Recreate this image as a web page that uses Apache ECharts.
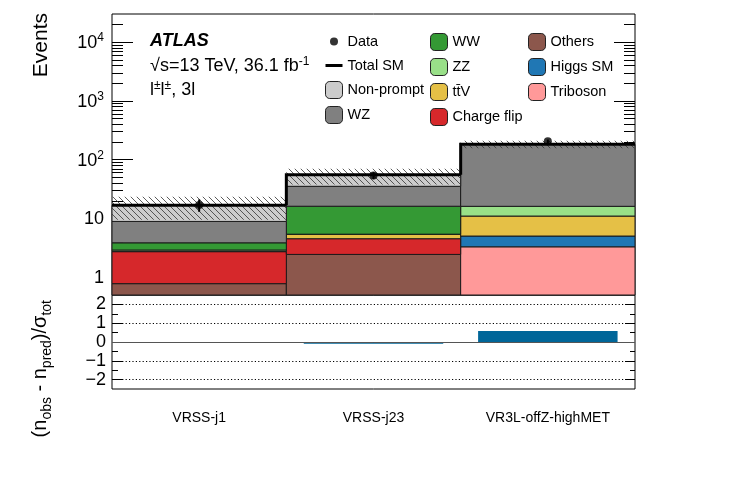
<!DOCTYPE html>
<html><head><meta charset="utf-8">
<script src="https://cdn.jsdelivr.net/npm/echarts@6/dist/echarts.min.js"></script>
<style>html,body{margin:0;padding:0;background:#fff}#c{width:747px;height:477px}</style>
</head><body><div id="c"></div>
<script>
// ---------- data ----------
const bins = ['VRSS-j1', 'VRSS-j23', 'VR3L-offZ-highMET'];
// stacked backgrounds (bottom to top)
const others     = [0.78, 2.45, 0];
const triboson   = [0, 0, 3.3];
const higgs      = [0, 0, 1.73];
const chargeFlip = [1.95, 2.08, 0];
const ttV        = [0.03, 0.83, 5.97];
const zz         = [0.15, 0.05, 5.1];
const ww         = [0.95, 10.74, 0];
const wz         = [5.05, 19.1, 166];
const nonPrompt  = [7.8, 20.3, 0];
// observed data
const dataObs    = [17, 54, 206];
const dataLow    = [13.0, 46.7, 192];
const dataHigh   = [21.1, 61.3, 220];
// total SM uncertainty band
const bandLow    = [9.5, 38, 157];
const bandHigh   = [23.5, 70, 210];
// significance (n_obs - n_pred)/sigma_tot
const pull       = [0, -0.09, 0.58];
// axis ticks
const yMajorTicks = [1, 10, 100, 1000, 10000];
const yMinorTicks = [0.6, 0.7, 0.8, 0.9, 2, 3, 4, 5, 6, 7, 8, 9, 20, 30, 40, 50, 60, 70, 80, 90,
  200, 300, 400, 500, 600, 700, 800, 900, 2000, 3000, 4000, 5000, 6000, 7000, 8000, 9000, 20000];
const rMajorTicks = [-2, -1, 0, 1, 2];
const rMinorTicks = [-1.5, -0.5, 0.5, 1.5];
const rDotLines = [-2, -1, 1, 2];

const processNames  = ['Others', 'Triboson', 'Higgs SM', 'Charge flip', 't\u0074\u0304V', 'ZZ', 'WW', 'WZ', 'Non-prompt'];
const processValues = [others, triboson, higgs, chargeFlip, ttV, zz, ww, wz, nonPrompt];
const processColors = ['#8c574c', '#ff9999', '#2077b4', '#d6282b', '#e5c046', '#99e088', '#349934', '#808080', '#cccccc'];

const Y_MIN = 0.5, Y_MAX = 30000;
const FONT = 'Liberation Sans, Arial, sans-serif';

// cumulative stack
const cum = [bins.map(() => 0)];
processValues.forEach((vals, k) => cum.push(vals.map((v, i) => cum[k][i] + v)));
const total = cum[cum.length - 1];

// hatch pattern
const pc = document.createElement('canvas');
pc.width = 6; pc.height = 6;
const pctx = pc.getContext('2d');
pctx.strokeStyle = '#333'; pctx.lineWidth = 0.8;
pctx.beginPath();
pctx.moveTo(0, 0); pctx.lineTo(6, 6);
pctx.moveTo(-1, 5); pctx.lineTo(1, 7);
pctx.moveTo(5, -1); pctx.lineTo(7, 1);
pctx.stroke();
const hatch = { image: pc, repeat: 'repeat' };

function binGeom(api, i, v) {
  const c0 = api.coord([0, v]), c1 = api.coord([1, v]);
  const w = c1[0] - c0[0];
  const c = api.coord([i, v]);
  return { left: c[0] - w / 2, right: c[0] + w / 2, y: c[1], x: c[0] };
}

const series = [];
processNames.forEach((name, k) => {
  series.push({
    type: 'custom', name: name, xAxisIndex: 0, yAxisIndex: 0,
    itemStyle: { color: processColors[k] },
    data: bins.map((b, i) => [i, Math.max(cum[k + 1][i], Y_MIN)]),
    encode: { x: 0, y: 1 },
    renderItem: function (params, api) {
      const i = params.dataIndex;
      const lo = cum[k][i], hi = cum[k + 1][i];
      if (hi - lo <= 0) return null;
      const a = binGeom(api, i, Math.max(lo, Y_MIN));
      const b = binGeom(api, i, hi);
      return { type: 'rect', shape: { x: a.left, y: b.y, width: a.right - a.left, height: a.y - b.y },
        style: { fill: processColors[k], stroke: '#1a1a1a', lineWidth: 1 } };
    }
  });
});
// uncertainty band
series.push({
  type: 'custom', name: 'Uncertainty', xAxisIndex: 0, yAxisIndex: 0,
  data: bins.map((b, i) => [i, bandHigh[i]]), encode: { x: 0, y: 1 },
  renderItem: function (params, api) {
    const i = params.dataIndex;
    const a = binGeom(api, i, bandLow[i]);
    const b = binGeom(api, i, bandHigh[i]);
    return { type: 'rect', shape: { x: a.left, y: b.y, width: a.right - a.left, height: a.y - b.y },
      style: { fill: hatch, stroke: null } };
  }
});
// total SM step line
series.push({
  type: 'custom', name: 'Total SM', xAxisIndex: 0, yAxisIndex: 0,
  itemStyle: { color: '#000' },
  data: bins.map((b, i) => [i, total[i]]), encode: { x: 0, y: 1 },
  renderItem: function (params, api) {
    const i = params.dataIndex;
    const g = binGeom(api, i, total[i]);
    let pts = [[g.left, g.y], [g.right, g.y]];
    if (i > 0) {
      const p = binGeom(api, i - 1, total[i - 1]);
      pts = [[g.left, p.y], [g.left, g.y], [g.right, g.y]];
    }
    return { type: 'polyline', shape: { points: pts }, style: { stroke: '#000', lineWidth: 3, fill: null, lineJoin: 'miter' } };
  }
});
// data error bars
series.push({
  type: 'custom', name: 'DataErr', xAxisIndex: 0, yAxisIndex: 0,
  data: bins.map((b, i) => [i, dataHigh[i]]), encode: { x: 0, y: 1 },
  renderItem: function (params, api) {
    const i = params.dataIndex;
    const a = binGeom(api, i, dataLow[i]);
    const b = binGeom(api, i, dataHigh[i]);
    return { type: 'line', shape: { x1: a.x, y1: a.y, x2: b.x, y2: b.y }, style: { stroke: '#000', lineWidth: 2 } };
  }
});
// data points
series.push({
  type: 'scatter', name: 'Data', xAxisIndex: 0, yAxisIndex: 0,
  symbol: 'circle', symbolSize: 8, itemStyle: { color: '#000' }, z: 5,
  data: dataObs.map((v, i) => [i, v])
});
// ratio
series.push({
  type: 'bar', name: 'Pull', xAxisIndex: 2, yAxisIndex: 4,
  barWidth: '80%', data: pull,
  itemStyle: { color: '#006699', borderWidth: 0 },
  markLine: {
    silent: true, symbol: 'none', label: { show: false }, animation: false,
    data: rDotLines.map(v => ({ yAxis: v, lineStyle: { type: [1.2, 2.2], color: '#000', width: 1 } }))
      .concat([{ yAxis: 0, lineStyle: { type: 'solid', color: '#555', width: 1 } }])
  }
});

const supRich = {
  m: { fontSize: 18, lineHeight: 20, verticalAlign: 'bottom', fontFamily: FONT, color: '#000' },
  p: { fontSize: 12, lineHeight: 14, verticalAlign: 'top', fontFamily: FONT, color: '#000' }
};

function logAxis(pos, ticks, len, showLabel) {
  return {
    type: 'log', gridIndex: 0, position: pos, min: Y_MIN, max: Y_MAX, logBase: 10,
    axisLine: { show: false, onZero: false }, splitLine: { show: false },
    axisTick: { show: true, inside: true, length: len, customValues: ticks, lineStyle: { color: '#000', width: 1 } },
    axisLabel: showLabel ? {
      show: true, customValues: yMajorTicks, margin: 8, rich: supRich,
      formatter: v => { const e = Math.round(Math.log10(v)); return e === 0 ? '{m|1}' : e === 1 ? '{m|10}' : '{m|10}{p|' + e + '}'; }
    } : { show: false }
  };
}
function ratioAxis(pos, ticks, len, showLabel) {
  return {
    type: 'value', gridIndex: 1, position: pos, min: -2.5, max: 2.5,
    axisLine: { show: false, onZero: false }, splitLine: { show: false },
    axisTick: { show: true, inside: true, length: len, customValues: ticks, lineStyle: { color: '#000', width: 1 } },
    axisLabel: showLabel ? {
      show: true, customValues: rMajorTicks, margin: 6, fontSize: 18, fontFamily: FONT, color: '#000',
      formatter: v => (v < 0 ? '\u2212' + (-v) : String(v))
    } : { show: false }
  };
}

const legendBase = {
  orient: 'vertical', top: 33, padding: 0, itemWidth: 17, itemHeight: 17, itemGap: 7,
  selectedMode: false, textStyle: { fontSize: 14.5, fontFamily: FONT, color: '#000' },
  itemStyle: { borderColor: '#222', borderWidth: 1 }
};

const option = {
  animation: false,
  backgroundColor: '#fff',
  grid: [
    { left: 112, top: 14, width: 523, height: 281, show: true, borderColor: '#000', borderWidth: 1, backgroundColor: 'transparent' },
    { left: 112, top: 295, width: 523, height: 94, show: true, borderColor: '#000', borderWidth: 1, backgroundColor: 'transparent' }
  ],
  xAxis: [
    { type: 'category', gridIndex: 0, data: bins, position: 'bottom', boundaryGap: true,
      axisLine: { show: false, onZero: false }, axisLabel: { show: false },
      axisTick: { inside: true, length: 5, lineStyle: { color: '#000' } } },
    { type: 'category', gridIndex: 0, data: bins, position: 'top', boundaryGap: true,
      axisLine: { show: false, onZero: false }, axisLabel: { show: false },
      axisTick: { inside: true, length: 5, lineStyle: { color: '#000' } } },
    { type: 'category', gridIndex: 1, data: bins, position: 'bottom', boundaryGap: true,
      axisLine: { show: false, onZero: false },
      axisLabel: { show: true, fontSize: 14, fontFamily: FONT, color: '#000', margin: 22 },
      axisTick: { inside: true, length: 6, lineStyle: { color: '#000' } } }
  ],
  yAxis: [
    logAxis('left', yMajorTicks, 21, true),
    logAxis('left', yMinorTicks, 11, false),
    logAxis('right', yMajorTicks, 21, false),
    logAxis('right', yMinorTicks, 11, false),
    ratioAxis('left', rMajorTicks, 11, true),
    ratioAxis('left', rMinorTicks, 6, false),
    ratioAxis('right', rMajorTicks, 10, false),
    ratioAxis('right', rMinorTicks, 5, false)
  ],
  legend: [
    Object.assign({}, legendBase, { left: 325, data: [
      { name: 'Data', icon: 'path://M0,0M17,17M12.5,8.5A4,4,0,1,1,4.5,8.5A4,4,0,1,1,12.5,8.5Z', itemStyle: { color: '#000', borderWidth: 0 } },
      { name: 'Total SM', icon: 'path://M0,0M17,17M0,7H17V10H0Z', itemStyle: { color: '#000', borderWidth: 0 } },
      'Non-prompt', 'WZ'] }),
    Object.assign({}, legendBase, { left: 430, data: ['WW', 'ZZ', 't\u0074\u0304V', 'Charge flip'] }),
    Object.assign({}, legendBase, { left: 528, data: ['Others', 'Higgs SM', 'Triboson'] })
  ],
  graphic: [
    { type: 'text', x: 41, y: 13, rotation: Math.PI / 2,
      style: { text: 'Events', fontSize: 21, fontFamily: FONT, fill: '#000', align: 'right', verticalAlign: 'middle' } },
    { type: 'text', x: 30, y: 300, rotation: Math.PI / 2,
      style: { text: '{n|(n}{s|obs}{n| - n}{s|pred}{n|)/\u03c3}{s|tot}', align: 'right', verticalAlign: 'top', fill: '#000',
        rich: {
          n: { fontSize: 20, lineHeight: 24, verticalAlign: 'top', fontFamily: FONT, fill: '#000' },
          s: { fontSize: 14, lineHeight: 24, verticalAlign: 'bottom', fontFamily: FONT, fill: '#000' }
        } } },
    { type: 'text', x: 150, y: 41.5,
      style: { text: 'ATLAS', fontSize: 18, fontWeight: 'bold', fontStyle: 'italic', fontFamily: FONT, fill: '#000', verticalAlign: 'middle' } },
    { type: 'text', x: 150, y: 65.5,
      style: { text: '{m|\u221as=13 TeV, 36.1 fb}{p|-1}', verticalAlign: 'middle', rich: {
        m: { fontSize: 18, lineHeight: 20, verticalAlign: 'bottom', fontFamily: FONT, fill: '#000' },
        p: { fontSize: 12, lineHeight: 14, verticalAlign: 'top', fontFamily: FONT, fill: '#000' } } } },
    { type: 'text', x: 150, y: 89.5,
      style: { text: '{m|l}{p|\u00b1}{m|l}{p|\u00b1}{m|, 3l}', verticalAlign: 'middle', rich: {
        m: { fontSize: 18, lineHeight: 20, verticalAlign: 'bottom', fontFamily: FONT, fill: '#000' },
        p: { fontSize: 12, lineHeight: 14, verticalAlign: 'top', fontFamily: FONT, fill: '#000' } } } }
  ],
  series: series
};

const chart = echarts.init(document.getElementById('c'), null, { renderer: 'canvas' });
chart.setOption(option);
</script>
</body></html>
